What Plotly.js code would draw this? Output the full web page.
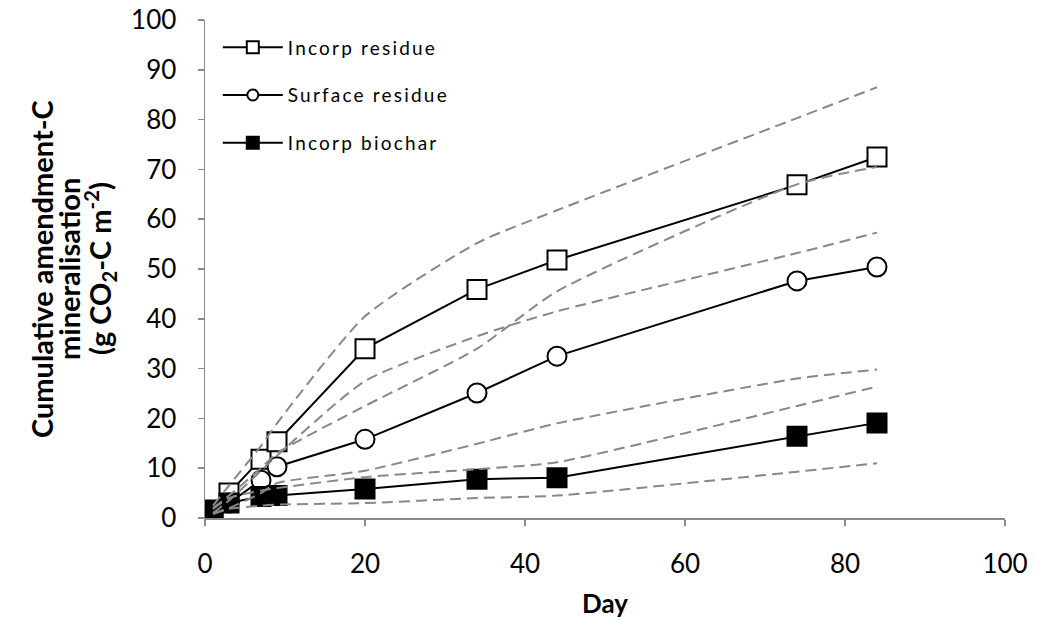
<!DOCTYPE html>
<html>
<head>
<meta charset="utf-8">
<script src="https://cdn.plot.ly/plotly-3.0.1.min.js"></script>
<style>html,body{margin:0;padding:0;background:#fff;}#chart{width:1037px;height:628px;}
#chart .legendtext{letter-spacing:2.2px;}
#chart .legend .scrollbox, #chart .legend{clip-path:none !important;}</style>
</head>
<body>
<div id="chart"></div>
<script>
var days = [1, 3, 7, 9, 20, 34, 44, 74, 84];
var incorpResidue = [1.6, 5, 11.8, 15.3, 34, 45.9, 51.8, 66.9, 72.5];
var surfaceResidue = [1.3, 3, 7.6, 10.3, 15.8, 25.1, 32.5, 47.6, 50.4];
var incorpBiochar = [1.3, 3, 4.3, 4.5, 5.8, 7.8, 8.1, 16.4, 19.1];

var incorpResidueUpper = [2.5, 6.5, 14.5, 19, 40.5, 55.2, 61.8, 80.3, 86.5];
var incorpResidueLower = [1, 3.5, 9.5, 12.5, 27.5, 36.5, 41.5, 53.2, 57.3];
var surfaceResidueUpper = [2, 4.5, 10, 13, 22.5, 34, 45.5, 67, 70.5];
var surfaceResidueLower = [1, 2, 5, 7, 9.5, 14.9, 19, 28, 29.8];
var incorpBiocharUpper = [1.8, 4, 5.5, 6, 8.2, 9.8, 11.2, 22.5, 26.4];
var incorpBiocharLower = [0.8, 1.8, 2.5, 2.7, 3, 4, 4.5, 9.3, 11];

var seriesNames = ['Incorp residue', 'Surface residue', 'Incorp biochar'];
var yTitleLines = ['Cumulative amendment-C', 'mineralisation', '(g CO<sub>2</sub>-C m<sup>-2</sup>)'];
var xTitle = 'Day';

var symbols = ['square', 'circle', 'square'];
var fills = ['#fff', '#fff', '#000'];
var meanSeries = [incorpResidue, surfaceResidue, incorpBiochar];

function meanTrace(y, i) {
  return {
    x: days, y: y, name: seriesNames[i], type: 'scatter', mode: 'lines+markers',
    showlegend: false,
    line: {color: '#000', width: 2},
    marker: {symbol: symbols[i], size: 19, color: fills[i], line: {color: '#000', width: 2}}
  };
}
function legendTrace(i) {
  return {
    x: [null], y: [null], name: seriesNames[i], type: 'scatter', mode: 'lines+markers',
    legendgroup: 'g' + i, hoverinfo: 'skip',
    line: {color: '#000', width: 2},
    marker: {symbol: symbols[i], size: i === 1 ? 11 : 12, color: fills[i], line: {color: '#000', width: 2}}
  };
}
function boundTrace(y) {
  return {
    x: days, y: y, type: 'scatter', mode: 'lines', showlegend: false, hoverinfo: 'skip',
    line: {color: '#888888', width: 2, dash: '11px,6px', shape: 'spline', smoothing: 0.6}
  };
}

var data = meanSeries.map(meanTrace).concat([
  boundTrace(incorpResidueUpper), boundTrace(incorpResidueLower),
  boundTrace(surfaceResidueUpper), boundTrace(surfaceResidueLower),
  boundTrace(incorpBiocharUpper), boundTrace(incorpBiocharLower),
  legendTrace(0), legendTrace(1), legendTrace(2)
]);

var L = 205, W = 800;
function px2paper(px) { return (px - L) / W; }
var titleFont = {family: 'Lato, sans-serif', size: 29, color: '#000'};
var titleX = [41, 68, 100];
var annotations = yTitleLines.map(function (t, i) {
  return {
    text: '<b>' + t + '</b>', xref: 'paper', yref: 'paper',
    x: px2paper(titleX[i]), y: 0.5, xanchor: 'center', yanchor: 'middle',
    textangle: -90, showarrow: false, font: titleFont
  };
});

var axisFont = {family: 'Lato, sans-serif', size: 26, color: '#000'};
var layout = {
  width: 1037, height: 628,
  margin: {l: 205, r: 32, t: 20, b: 110},
  paper_bgcolor: '#fff', plot_bgcolor: '#fff',
  showlegend: true,
  annotations: annotations,
  legend: {
    x: 0.016, y: 0.983, xanchor: 'left', yanchor: 'top',
    font: {family: 'Lato, sans-serif', size: 19, color: '#000'},
    bgcolor: 'rgba(0,0,0,0)', itemwidth: 60, tracegroupgap: 20, traceorder: 'grouped',
    itemsizing: 'trace'
  },
  xaxis: {
    range: [0, 100], dtick: 20, tick0: 0, showgrid: false, zeroline: false,
    showline: true, linecolor: '#898989', linewidth: 1.5,
    ticks: 'outside', ticklen: 6, tickcolor: '#898989', tickwidth: 1.5,
    tickfont: axisFont, ticklabelstandoff: 16,
    title: {text: '<b>' + xTitle + '</b>', font: {family: 'Lato, sans-serif', size: 26, color: '#000'}, standoff: 17}
  },
  yaxis: {
    range: [0, 100], dtick: 10, tick0: 0, showgrid: false, zeroline: false,
    showline: true, linecolor: '#898989', linewidth: 1.5,
    ticks: 'outside', ticklen: 6, tickcolor: '#898989', tickwidth: 1.5,
    tickfont: axisFont, ticklabelstandoff: 16
  }
};
Plotly.newPlot('chart', data, layout, {displayModeBar: false, staticPlot: true});
</script>
</body>
</html>
